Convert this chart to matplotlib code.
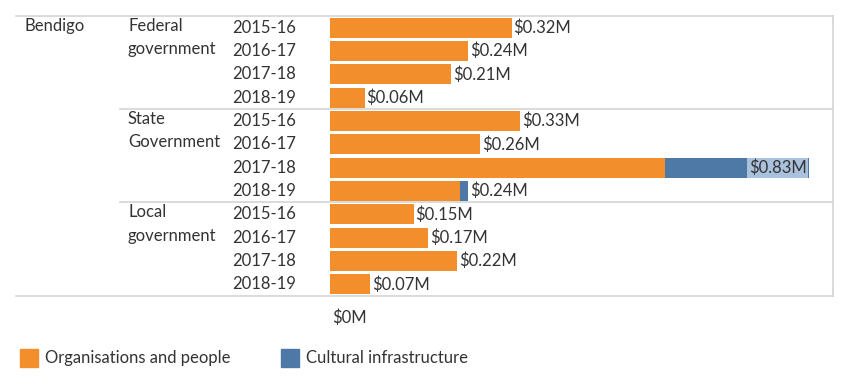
import numpy as np
import matplotlib.pyplot as plt
from matplotlib.transforms import blended_transform_factory
from matplotlib.patches import Rectangle

plt.rcParams['font.family'] = ['Lato', 'DejaVu Sans']

region = "Bendigo"
groups = [["Federal", "government"], ["State", "Government"], ["Local", "government"]]
years = ["2015-16", "2016-17", "2017-18", "2018-19"]
org_people = [0.315, 0.24, 0.21, 0.06,
              0.33, 0.26, 0.58, 0.225,
              0.145, 0.17, 0.22, 0.07]
cultural = [0, 0, 0, 0,
            0, 0, 0.25, 0.015,
            0, 0, 0, 0]
totals = [0.32, 0.24, 0.21, 0.06, 0.33, 0.26, 0.83, 0.24, 0.15, 0.17, 0.22, 0.07]

ORANGE = "#F28E2B"
BLUE = "#4E79A7"
TXT = "#333333"
LINE = "#d4d4d4"
FS = 12

W, H = 850, 386
fig = plt.figure(figsize=(W / 100, H / 100), dpi=100)
ax = fig.add_axes([330 / W, 1 - 296 / H, (833 - 330) / W, 280 / H])

n = len(org_people)
y = np.arange(n) + 0.5
ax.barh(y, org_people, height=0.86, color=ORANGE)
ax.barh(y, cultural, left=org_people, height=0.86, color=BLUE)
ax.set_xlim(0, 503 / 577)
ax.set_ylim(n, 0)
ax.axis("off")

# value labels
for i, t in enumerate(totals):
    lab = "$%.2fM" % t
    end = org_people[i] + cultural[i]
    if t > 0.75:
        ax.text(end - 0.004, y[i], lab, ha="right", va="center", fontsize=FS, color=TXT,
                bbox=dict(boxstyle="square,pad=0.1", fc="#a9c1dc", ec="none"))
    else:
        ax.text(end + 0.003, y[i], lab, ha="left", va="center", fontsize=FS, color=TXT)

# row headers
tr = blended_transform_factory(fig.transFigure, ax.transData)
for g in range(3):
    for k, yr in enumerate(years):
        ax.text(232 / W, y[g * 4 + k], yr, transform=tr, ha="left", va="center",
                fontsize=FS, color=TXT)
    for k, word in enumerate(groups[g]):
        ax.text(128 / W, y[g * 4 + k] - 0.08, word, transform=tr, ha="left", va="center",
                fontsize=FS, color=TXT)
ax.text(24 / W, y[0] - 0.08, region, transform=tr, ha="left", va="center", fontsize=FS, color=TXT)

# frame lines
def hline(ypx, x0, x1):
    fig.add_artist(plt.Line2D([x0 / W, x1 / W], [1 - ypx / H, 1 - ypx / H], color=LINE, lw=1.2))

hline(16, 16, 833)
hline(296, 16, 833)
hline(109, 120, 833)
hline(202, 120, 833)
fig.add_artist(plt.Line2D([833 / W, 833 / W], [1 - 16 / H, 1 - 296 / H], color=LINE, lw=1.2))

# axis label
fig.text(332 / W, 1 - 318 / H, "$0M", ha="left", va="center", fontsize=FS, color=TXT)

# legend
for x0, col, lab in [(20, ORANGE, "Organisations and people"), (281, BLUE, "Cultural infrastructure")]:
    fig.add_artist(Rectangle((x0 / W, 1 - 367 / H), 18 / W, 18 / H, color=col,
                             transform=fig.transFigure))
    fig.text((x0 + 25) / W, 1 - 358 / H, lab, ha="left", va="center", fontsize=FS, color=TXT)

fig.savefig("out.png", dpi=100)
